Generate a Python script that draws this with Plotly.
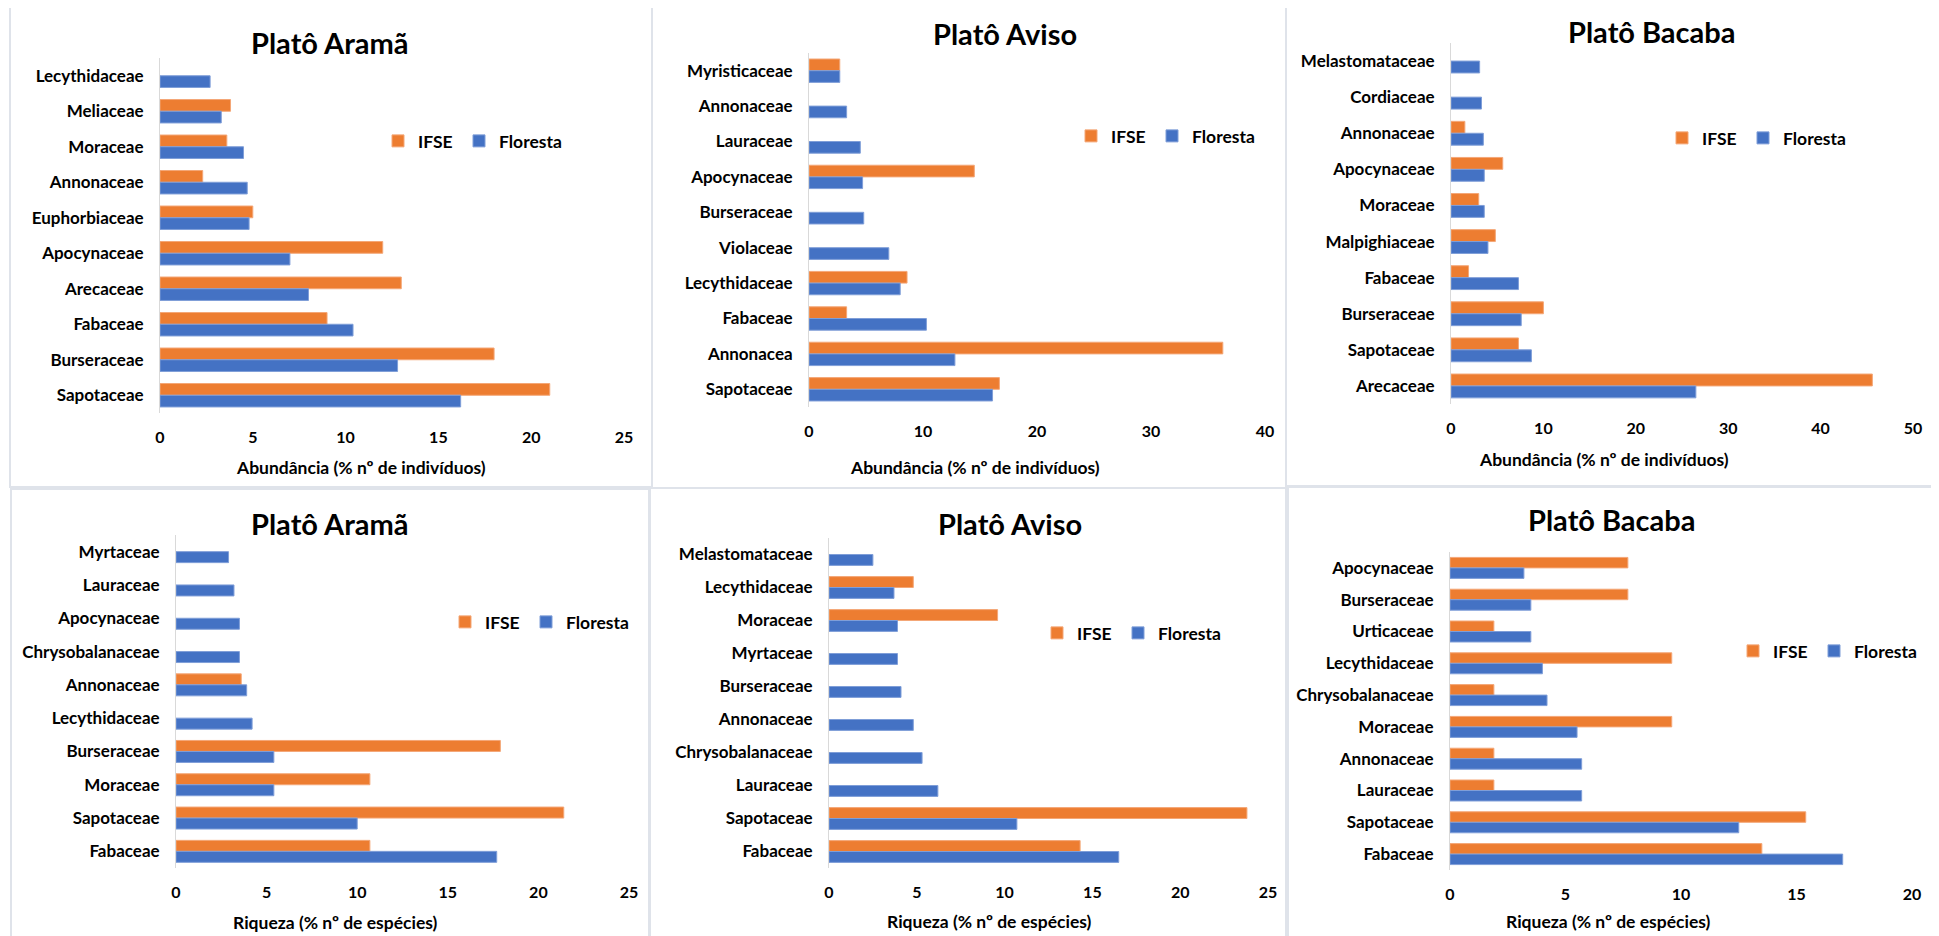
import plotly.graph_objects as go

# the page puts the figure 8 px in from the top-left corner, so the figure is
# made 8 px smaller and every position below is given in screen pixels
W, H = 1939, 936
OFF = 8
FW, FH = W - OFF, H - OFF
FONT = "Lato, DejaVu Sans Condensed, sans-serif"
ORANGE = "#ED7D31"
BLUE = "#4472C4"

# --- data (categories listed top to bottom) ---
cats_ab_arama = ["Lecythidaceae", "Meliaceae", "Moraceae", "Annonaceae", "Euphorbiaceae",
                 "Apocynaceae", "Arecaceae", "Fabaceae", "Burseraceae", "Sapotaceae"]
ifse_ab_arama = [None, 3.8, 3.6, 2.3, 5.0, 12.0, 13.0, 9.0, 18.0, 21.0]
flor_ab_arama = [2.7, 3.3, 4.5, 4.7, 4.8, 7.0, 8.0, 10.4, 12.8, 16.2]

cats_ab_aviso = ["Myristicaceae", "Annonaceae", "Lauraceae", "Apocynaceae", "Burseraceae",
                 "Violaceae", "Lecythidaceae", "Fabaceae", "Annonacea", "Sapotaceae"]
ifse_ab_aviso = [2.7, None, None, 14.5, None, None, 8.6, 3.3, 36.3, 16.7]
flor_ab_aviso = [2.7, 3.3, 4.5, 4.7, 4.8, 7.0, 8.0, 10.3, 12.8, 16.1]

cats_ab_bacaba = ["Melastomataceae", "Cordiaceae", "Annonaceae", "Apocynaceae", "Moraceae",
                  "Malpighiaceae", "Fabaceae", "Burseraceae", "Sapotaceae", "Arecaceae"]
ifse_ab_bacaba = [None, None, 1.5, 5.6, 3.0, 4.8, 1.9, 10.0, 7.3, 45.6]
flor_ab_bacaba = [3.1, 3.3, 3.5, 3.6, 3.6, 4.0, 7.3, 7.6, 8.7, 26.5]

cats_ri_arama = ["Myrtaceae", "Lauraceae", "Apocynaceae", "Chrysobalanaceae", "Annonaceae",
                 "Lecythidaceae", "Burseraceae", "Moraceae", "Sapotaceae", "Fabaceae"]
ifse_ri_arama = [None, None, None, None, 3.6, None, 17.9, 10.7, 21.4, 10.7]
flor_ri_arama = [2.9, 3.2, 3.5, 3.5, 3.9, 4.2, 5.4, 5.4, 10.0, 17.7]

cats_ri_aviso = ["Melastomataceae", "Lecythidaceae", "Moraceae", "Myrtaceae", "Burseraceae",
                 "Annonaceae", "Chrysobalanaceae", "Lauraceae", "Sapotaceae", "Fabaceae"]
ifse_ri_aviso = [None, 4.8, 9.6, None, None, None, None, None, 23.8, 14.3]
flor_ri_aviso = [2.5, 3.7, 3.9, 3.9, 4.1, 4.8, 5.3, 6.2, 10.7, 16.5]

cats_ri_bacaba = ["Apocynaceae", "Burseraceae", "Urticaceae", "Lecythidaceae", "Chrysobalanaceae",
                  "Moraceae", "Annonaceae", "Lauraceae", "Sapotaceae", "Fabaceae"]
ifse_ri_bacaba = [7.7, 7.7, 1.9, 9.6, 1.9, 9.6, 1.9, 1.9, 15.4, 13.5]
flor_ri_bacaba = [3.2, 3.5, 3.5, 4.0, 4.2, 5.5, 5.7, 5.7, 12.5, 17.0]

ab_title = "Abundância (% nº de indivíduos)"
ri_title = "Riqueza (% nº de espécies)"


def px(x):
    return (x - OFF) / FW


def py(y):
    return 1 - (y - OFF) / FH


# panel layout in screen pixels: box, plot area, axis max/dtick, title pos, legend text starts, axis title pos
panels = [
    dict(title="Platô Aramã", cats=cats_ab_arama, ifse=ifse_ab_arama, flor=flor_ab_arama,
         box=(10, 5, 652, 487), x=(160, 624), y=(58, 413), xmax=25, dtick=5,
         tpos=(330, 42), leg=(415, 493, 141), atitle=ab_title, apos=(361, 467)),
    dict(title="Platô Aviso", cats=cats_ab_aviso, ifse=ifse_ab_aviso, flor=flor_ab_aviso,
         box=(652, 5, 1286, 488), x=(809, 1265), y=(53, 407), xmax=40, dtick=10,
         tpos=(1005, 33), leg=(1108, 1176, 136), atitle=ab_title, apos=(975, 467)),
    dict(title="Platô Bacaba", cats=cats_ab_bacaba, ifse=ifse_ab_bacaba, flor=flor_ab_bacaba,
         box=(1286, 5, 1935, 486), x=(1451, 1913), y=(43, 404), xmax=50, dtick=10,
         tpos=(1651, 32), leg=(1699, 1778, 138), atitle=ab_title, apos=(1604, 460)),
    dict(title="Platô Aramã", cats=cats_ri_arama, ifse=ifse_ri_arama, flor=flor_ri_arama,
         box=(11, 489, 649, 945), x=(176, 629), y=(535, 868), xmax=25, dtick=5,
         tpos=(330, 523), leg=(482, 546, 622), atitle=ri_title, apos=(335, 922)),
    dict(title="Platô Aviso", cats=cats_ri_aviso, ifse=ifse_ri_aviso, flor=flor_ri_aviso,
         box=(650, 488, 1286, 945), x=(829, 1268), y=(538, 868), xmax=25, dtick=5,
         tpos=(1010, 523), leg=(1074, 1145, 633), atitle=ri_title, apos=(989, 921)),
    dict(title="Platô Bacaba", cats=cats_ri_bacaba, ifse=ifse_ri_bacaba, flor=flor_ri_bacaba,
         box=(1288, 487, 1935, 945), x=(1450, 1912), y=(552, 870), xmax=20, dtick=5,
         tpos=(1611, 519), leg=(1770, 1839, 651), atitle=ri_title, apos=(1608, 921)),
]

fig = go.Figure()
layout = dict(width=FW, height=FH, margin=dict(l=0, r=0, t=0, b=0, autoexpand=False),
              paper_bgcolor="white", plot_bgcolor="white",
              barmode="group", bargap=0.34, bargroupgap=0,
              font=dict(family=FONT, size=17, color="black", weight="bold"),
              shapes=[], annotations=[])

for i, p in enumerate(panels, start=1):
    sfx = "" if i == 1 else str(i)
    leg_id = "legend" + sfx
    gap = p["leg"][1] - p["leg"][0]
    fig.add_trace(go.Bar(name="IFSE", y=p["cats"], x=p["ifse"], orientation="h",
                         marker=dict(color=ORANGE, line=dict(color="#F4A777", width=1)),
                         xaxis="x" + sfx, yaxis="y" + sfx, legend=leg_id,
                         legendwidth=max(gap - 49, 36)))
    fig.add_trace(go.Bar(name="Floresta", y=p["cats"], x=p["flor"], orientation="h",
                         marker=dict(color=BLUE, line=dict(color="#7F9ED8", width=1)),
                         xaxis="x" + sfx, yaxis="y" + sfx, legend=leg_id,
                         legendwidth=80))

    layout["xaxis" + sfx] = dict(domain=[px(p["x"][0]), px(p["x"][1])], anchor="y" + sfx,
                                 range=[0, p["xmax"]], dtick=p["dtick"], tick0=0,
                                 showgrid=False, zeroline=False, showline=False,
                                 automargin=False, ticklabelstandoff=13,
                                 tickfont=dict(size=16, family=FONT, weight="bold"))
    layout["yaxis" + sfx] = dict(domain=[py(p["y"][1]), py(p["y"][0])], anchor="x" + sfx,
                                 autorange="reversed", showgrid=False, zeroline=False,
                                 showline=True, linecolor="#D9D9D9", linewidth=1,
                                 automargin=False, ticklabelstandoff=12,
                                 tickfont=dict(size=17, family=FONT, weight="bold"))
    layout[leg_id] = dict(orientation="h", x=px(p["leg"][0] - 37), xanchor="left",
                          y=py(p["leg"][2]), yanchor="middle", bgcolor="rgba(0,0,0,0)",
                          font=dict(size=17.5, family=FONT, weight="bold"))

    x0, y0, x1, y1 = p["box"]
    layout["shapes"].append(dict(type="rect", xref="paper", yref="paper",
                                 x0=px(x0), x1=px(x1), y0=py(y1), y1=py(y0),
                                 line=dict(color="#DFE3EA", width=2), layer="below"))
    layout["annotations"].append(dict(text=p["title"], x=px(p["tpos"][0]), y=py(p["tpos"][1]),
                                      xref="paper", yref="paper", showarrow=False,
                                      xanchor="center", yanchor="middle",
                                      font=dict(size=29, family=FONT, weight="bold")))
    layout["annotations"].append(dict(text=p["atitle"], x=px(p["apos"][0]), y=py(p["apos"][1]),
                                      xref="paper", yref="paper", showarrow=False,
                                      xanchor="center", yanchor="middle",
                                      font=dict(size=17.5, family=FONT, weight="bold")))

fig.update_layout(**layout)
fig.write_html("out.html")
